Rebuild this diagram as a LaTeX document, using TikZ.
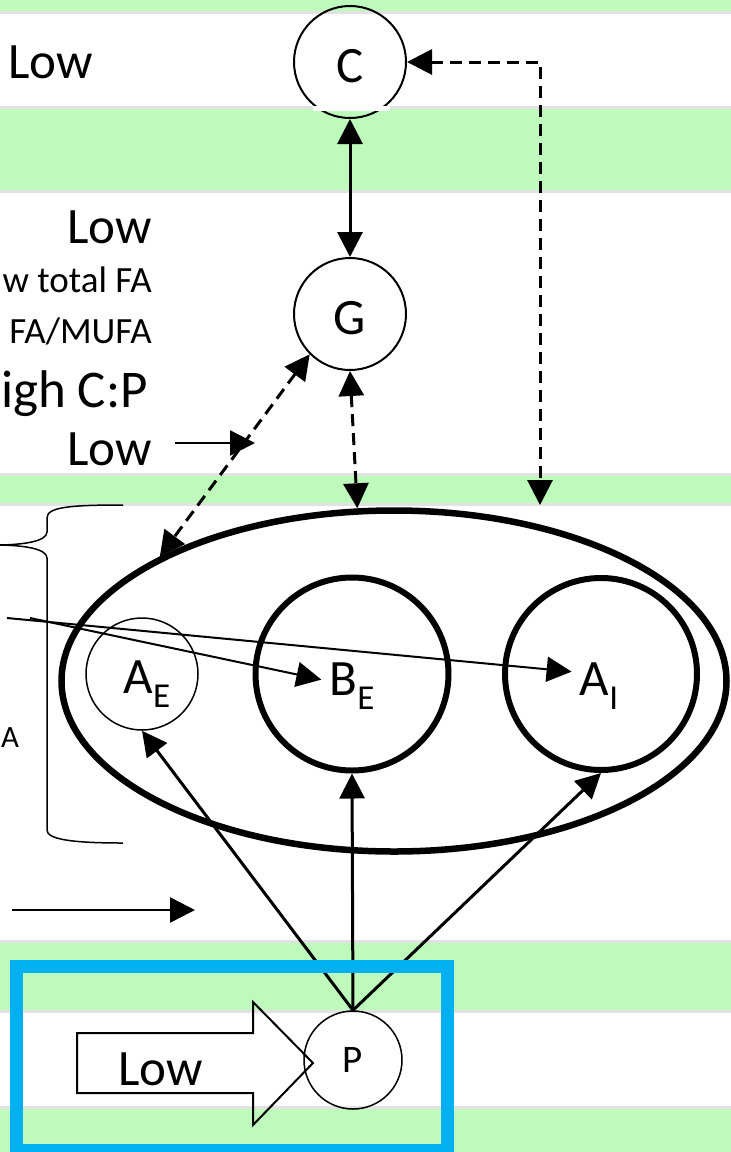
\documentclass[tikz,border=0pt]{standalone}
\usepackage{fontspec}
\setmainfont{Carlito}
\usetikzlibrary{arrows.meta,shapes.geometric}
\definecolor{band}{RGB}{190,250,188}
\definecolor{bandline}{RGB}{226,226,226}
\definecolor{frame}{RGB}{0,176,240}
\newcommand\lowsub[1]{\raisebox{-14pt}{\fontsize{35}{35}\selectfont #1}}
\begin{document}
\begin{tikzpicture}[x=1pt,y=-1pt,
  >={Triangle[length=25pt,width=25pt]},
  fz/.style={font=\fontsize{#1}{#1}\selectfont},
  ring/.style={circle,draw,line width=#1},
  conn/.style={line width=3pt},
  dconn/.style={line width=3pt,dash pattern=on 12pt off 7pt},
  lbl/.style={fz=51,anchor=base,inner sep=0pt,inner xsep=8pt},
  txt/.style={inner sep=0pt}]
\useasboundingbox (0,0) rectangle (731,1152);
% bands
\fill[band] (0,0) rectangle (731,11);
\fill[band] (0,109) rectangle (731,190);
\fill[band] (0,476) rectangle (731,503);
\fill[band] (0,943) rectangle (731,1010);
\fill[band] (0,1109) rectangle (731,1152);
\foreach \yy in {12,107.5,191.5,474.5,504.5,941.5,1011.5,1107.5}
  \draw[bandline,line width=3pt] (0,\yy) -- (731,\yy);

% brace
\draw[line width=1.5pt] (123,505) .. controls (70,505) and (47,507) .. (47,518) -- (47,532)
  .. controls (47,541) and (25,545) .. (-5,545)
  .. controls (25,545) and (47,549) .. (47,558) -- (47,830)
  .. controls (47,839) and (70,843) .. (123,843);

% main nodes
\node[ring=2pt,minimum size=112pt,fz=51,text height=42pt,text depth=2pt] (C) at (350,62) {C};
\fill[white] (313,106) rectangle (390,110.5);
\node[ring=2pt,minimum size=112pt,fz=51,text height=42pt,text depth=2pt] (G) at (350,314) {G};
\node[ellipse,draw,line width=6.5pt,minimum width=665pt,minimum height=341pt] (E) at (394,681) {};
\node[ring=1.5pt,minimum size=112pt] (AE) at (142,674) {};
\node[ring=6pt,minimum size=193pt] (BE) at (352,674) {};
\node[ring=6pt,minimum size=192pt] (AI) at (601,674) {};
\node[ring=1.5pt,minimum size=98pt,fz=39] (P) at (353,1060) {P};

\node[lbl] (AEt) at (147,693) {A\lowsub{E}};
\node[lbl] (BEt) at (352,695) {B\lowsub{E}};
\node[lbl] (AIt) at (599,695) {A\lowsub{I}};

% texts
\node[txt,fz=51,anchor=base west] (low1) at (8,78) {Low};
\node[txt,fz=51,anchor=base east] (low2) at (152,243) {Low};
\node[txt,fz=37,anchor=base east] (tfa) at (152,292) {w total FA};
\node[txt,fz=37,anchor=base east] (mufa) at (152,343) {FA/MUFA};
\node[txt,fz=53,anchor=base east] (cp) at (148,407) {igh C:P};
\node[txt,fz=51,anchor=base east] (low3) at (152,465) {Low};
\node[txt,fz=31,anchor=base west] (aleft) at (1,747) {A};

% block arrow with Low
\draw[line width=2pt] (77,1033) -- (253,1033) -- (253,1002) -- (313,1063) -- (253,1125) -- (253,1093) -- (77,1093) -- cycle;
\node[txt,fz=51,anchor=base west] (low4) at (118,1085) {Low};

% connectors
\draw[conn,<->] (C.south) -- (G.north);
\coordinate (ctip) at (540,505);
\draw[dconn,<->] (C.east) -| (ctip);
\draw[dconn,<->] (G.south) -- (E.102);
\draw[dconn,<->] (G.225) -- (E.152);

\draw[conn,->] (P.north) -- (AE.south);
\draw[conn,->] (P.north) -- (BE.south);
\draw[conn,->] (P.north) -- (AI.south);

\coordinate (ls1) at (7,618);
\coordinate (ls2) at (30,618);
\draw[line width=2pt,->] (ls1) -- ([yshift=14pt]AIt.west);
\draw[line width=2pt,->] (ls2) -- ([yshift=6pt]BEt.west);

\coordinate (a3s) at (175,443);
\coordinate (a3e) at (255,443);
\draw[line width=2.5pt,->] (a3s) -- (a3e);
\coordinate (a4s) at (12,910);
\coordinate (a4e) at (195,910);
\draw[line width=2.5pt,->] (a4s) -- (a4e);

% blue frame
\draw[frame,line width=12.5pt] (16.5,966.5) rectangle (447.5,1150);
\end{tikzpicture}
\end{document}
